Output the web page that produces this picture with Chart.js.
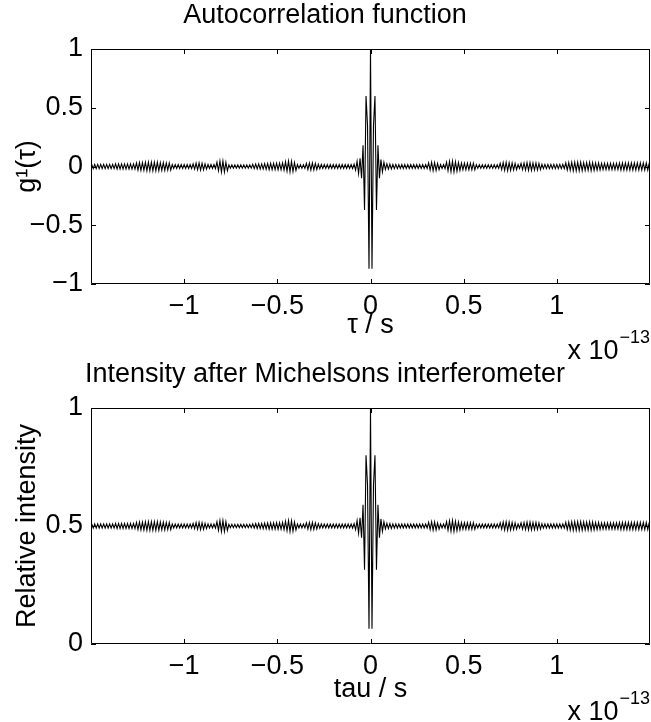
<!DOCTYPE html>
<html>
<head>
<meta charset="utf-8">
<title>Autocorrelation / Michelson</title>
<script src="https://cdn.jsdelivr.net/npm/chart.js@4.4.1/dist/chart.umd.min.js"></script>
<style>
    html, body { margin: 0; padding: 0; background: #ffffff; }
    .panel { position: relative; width: 651px; height: 361px; }
    canvas { display: block; }
</style>
</head>
<body>
<div class="panel"><canvas id="acfChart" width="651" height="361"></canvas></div>
<div class="panel"><canvas id="michelsonChart" width="651" height="361"></canvas></div>
<script>
// Sampling grid of the delay axis (units of 1e-13 s)
const TAU_START = -1.496;
const TAU_STEP = 0.008;

// Tick labels
const X_TICKS = [-1, -0.5, 0, 0.5, 1];
const G1_TICKS = [-1, -0.5, 0, 0.5, 1];
const INT_TICKS = [0, 0.5, 1];

// g1(tau)
const g1Values = [
    .018,-.018,.018,-.018,.018,-.018,.018,-.018,.018,-.018,.018,-.018,.018,-.018,.018,-.018,
    .022,-.022,.022,-.022,.022,-.022,.022,-.022,.022,-.022,.022,-.022,.022,-.022,
    .03,-.03,.033,-.033,.033,-.033,.036,-.036,.036,-.036,.036,-.036,.036,-.036,.036,-.036,.033,-.033,.033,-.033,.03,-.03,.03,-.03,
    .017,-.017,.017,-.017,.017,-.017,.017,-.017,.017,-.017,.017,-.017,.017,-.017,
    .022,-.022,.028,-.028,.03,-.03,.028,-.028,.022,-.022,
    .017,-.017,.017,-.017,.017,-.017,
    .036,-.036,.046,-.046,.046,-.046,.036,-.036,
    .014,-.014,.014,-.014,.014,-.014,.014,-.014,.014,-.014,.014,-.014,.014,-.014,.014,-.014,
    .018,-.018,.02,-.02,.022,-.022,.022,-.022,.024,-.024,.026,-.026,.026,-.026,.026,-.026,.028,-.028,.028,-.028,.03,-.03,
    .04,-.04,.046,-.046,.043,-.043,.033,-.033,
    .016,-.016,.016,-.016,.016,-.016,
    .026,-.026,.03,-.03,.03,-.03,.026,-.026,.02,-.02,
    .017,-.017,.017,-.017,.017,-.017,.017,-.017,.017,-.017,.017,-.017,.017,-.017,.017,-.017,.017,-.017,.017,-.017,.017,-.017,
    .02,-.03,.045,-.06,
    .07,-.1,.18,-.37,.6,.35,-.87,1,-.87,.35,.6,-.37,.18,-.1,.06,-.045,.035,-.025,
    .022,-.022,.02,-.02,.018,-.018,.018,-.018,.017,-.017,
    .017,-.017,.017,-.017,.017,-.017,.017,-.017,.017,-.017,.017,-.017,.017,-.017,.017,-.017,.017,-.017,
    .03,-.03,.036,-.036,.033,-.033,.026,-.026,
    .017,-.017,.017,-.017,
    .036,-.036,.043,-.043,.046,-.046,.04,-.04,.033,-.033,
    .028,-.028,.028,-.028,.028,-.028,.028,-.028,.028,-.028,
    .016,-.016,.016,-.016,.016,-.016,.016,-.016,.016,-.016,.016,-.016,.016,-.016,.016,-.016,
    .026,-.026,.033,-.033,.036,-.036,.033,-.033,.03,-.03,.026,-.026,
    .017,-.017,
    .026,-.026,.03,-.03,.033,-.033,.033,-.033,.03,-.03,.03,-.03,.026,-.026,
    .018,-.018,.018,-.018,.018,-.018,.018,-.018,.018,-.018,.018,-.018,.018,-.018,.018,-.018,
    .03,-.03,.033,-.033,.036,-.036,.036,-.036,.036,-.036,.036,-.036,.033,-.033,.033,-.033,.036,-.036,.033,-.033,.03,-.03,.03,-.03,
    .026,-.026,.026,-.026,.026,-.026,.026,-.026,.026,-.026,.026,-.026,
    .03,-.03,.03,-.03,.03,-.03,.03,-.03,.03,-.03,.03,-.03,.03,-.03,.03,-.03,.03,-.03,.03,-.03,
    .03
];

// Relative intensity
const intensityValues = [
    .509,.491,.509,.491,.509,.491,.509,.491,.509,.491,.509,.491,.509,.491,.509,.491,
    .511,.489,.511,.489,.511,.489,.511,.489,.511,.489,.511,.489,.511,.489,
    .515,.485,.5165,.4835,.5165,.4835,.518,.482,.518,.482,.518,.482,.518,.482,.518,.482,.5165,.4835,.5165,.4835,.515,.485,.515,.485,
    .5085,.4915,.5085,.4915,.5085,.4915,.5085,.4915,.5085,.4915,.5085,.4915,.5085,.4915,
    .511,.489,.514,.486,.515,.485,.514,.486,.511,.489,
    .5085,.4915,.5085,.4915,.5085,.4915,
    .518,.482,.523,.477,.523,.477,.518,.482,
    .507,.493,.507,.493,.507,.493,.507,.493,.507,.493,.507,.493,.507,.493,.507,.493,
    .509,.491,.51,.49,.511,.489,.511,.489,.512,.488,.513,.487,.513,.487,.513,.487,.514,.486,.514,.486,.515,.485,
    .52,.48,.523,.477,.5215,.4785,.5165,.4835,
    .508,.492,.508,.492,.508,.492,
    .513,.487,.515,.485,.515,.485,.513,.487,.51,.49,
    .5085,.4915,.5085,.4915,.5085,.4915,.5085,.4915,.5085,.4915,.5085,.4915,.5085,.4915,.5085,.4915,.5085,.4915,.5085,.4915,.5085,.4915,
    .51,.485,.5225,.47,
    .535,.45,.59,.315,.8,.675,.065,1,.065,.675,.8,.315,.59,.45,.53,.4775,.5175,.4875,
    .511,.489,.51,.49,.509,.491,.509,.491,.5085,.4915,
    .5085,.4915,.5085,.4915,.5085,.4915,.5085,.4915,.5085,.4915,.5085,.4915,.5085,.4915,.5085,.4915,.5085,.4915,
    .515,.485,.518,.482,.5165,.4835,.513,.487,
    .5085,.4915,.5085,.4915,
    .518,.482,.5215,.4785,.523,.477,.52,.48,.5165,.4835,
    .514,.486,.514,.486,.514,.486,.514,.486,.514,.486,
    .508,.492,.508,.492,.508,.492,.508,.492,.508,.492,.508,.492,.508,.492,.508,.492,
    .513,.487,.5165,.4835,.518,.482,.5165,.4835,.515,.485,.513,.487,
    .5085,.4915,
    .513,.487,.515,.485,.5165,.4835,.5165,.4835,.515,.485,.515,.485,.513,.487,
    .509,.491,.509,.491,.509,.491,.509,.491,.509,.491,.509,.491,.509,.491,.509,.491,
    .515,.485,.5165,.4835,.518,.482,.518,.482,.518,.482,.518,.482,.5165,.4835,.5165,.4835,.518,.482,.5165,.4835,.515,.485,.515,.485,
    .513,.487,.513,.487,.513,.487,.513,.487,.513,.487,.513,.487,
    .515,.485,.515,.485,.515,.485,.515,.485,.515,.485,.515,.485,.515,.485,.515,.485,.515,.485,.515,.485,
    .515
];

const FONT_FAMILY = "'Liberation Sans', Arial, Helvetica, sans-serif";
const FONT_SIZE = 27;

// MATLAB style: box round the axes, ticks pointing inward, "x 10^-13" exponent
const matlabAxes = {
    id: 'matlabAxes',
    beforeDraw(chart) {
        const ctx = chart.ctx;
        ctx.save();
        ctx.fillStyle = '#ffffff';
        ctx.fillRect(0, 0, chart.width, chart.height);
        ctx.restore();
    },
    afterDraw(chart) {
        const { ctx, chartArea: a, scales } = chart;
        const len = 5;
        ctx.save();
        ctx.strokeStyle = '#000000';
        ctx.lineWidth = 1;
        ctx.beginPath();
        ctx.rect(a.left + 0.5, a.top + 0.5, a.right - a.left - 1, a.bottom - a.top - 1);
        scales.x.ticks.forEach(t => {
            const px = Math.round(scales.x.getPixelForValue(t.value)) + 0.5;
            ctx.moveTo(px, a.bottom);
            ctx.lineTo(px, a.bottom - len);
            ctx.moveTo(px, a.top);
            ctx.lineTo(px, a.top + len);
        });
        scales.y.ticks.forEach(t => {
            const py = Math.round(scales.y.getPixelForValue(t.value)) + 0.5;
            ctx.moveTo(a.left, py);
            ctx.lineTo(a.left + len, py);
            ctx.moveTo(a.right, py);
            ctx.lineTo(a.right - len, py);
        });
        ctx.stroke();

        // exponent of the x axis
        ctx.fillStyle = '#000000';
        ctx.textBaseline = 'alphabetic';
        ctx.textAlign = 'left';
        const base = 'x 10';
        ctx.font = '18px ' + FONT_FAMILY;
        const supW = ctx.measureText('\u221213').width;
        ctx.font = FONT_SIZE + 'px ' + FONT_FAMILY;
        const baseW = ctx.measureText(base).width;
        const x0 = chart.width - 2 - supW - baseW;
        ctx.fillText(base, x0, 359);
        ctx.font = '18px ' + FONT_FAMILY;
        ctx.fillText('\u221213', x0 + baseW + 1, 343);
        ctx.restore();
    }
};

function fmtTick(v) {
    return v < 0 ? '\u2212' + Math.abs(v) : String(v);
}

function buildChart(canvasId, values, yTicks, yMin, yMax, titleText, xTitle, yTitle, layoutCfg) {
    const ctx = document.getElementById(canvasId).getContext('2d');
    const points = values.map((v, i) => ({ x: TAU_START + i * TAU_STEP, y: v }));

    return new Chart(ctx, {
        type: 'line',
        data: {
            datasets: [{
                data: points,
                borderColor: '#000000',
                borderWidth: 1.1,
                pointRadius: 0,
                tension: 0,
                fill: false
            }]
        },
        options: {
            responsive: false,
            animation: false,
            events: [],
            layout: { padding: { left: 0, right: 1, top: 0, bottom: 0 } },
            plugins: {
                legend: { display: false },
                tooltip: { enabled: false },
                title: {
                    display: true,
                    text: titleText,
                    color: '#000000',
                    font: { family: FONT_FAMILY, size: FONT_SIZE, weight: 'normal', lineHeight: 1 },
                    padding: layoutCfg.titlePadding
                }
            },
            scales: {
                x: {
                    type: 'linear',
                    min: -1.5,
                    max: 1.5,
                    afterBuildTicks: scale => { scale.ticks = X_TICKS.map(value => ({ value })); },
                    afterFit: scale => { scale.height = layoutCfg.xHeight; },
                    grid: { display: false, drawTicks: false },
                    border: { display: false },
                    ticks: {
                        color: '#000000',
                        padding: 6,
                        maxRotation: 0,
                        font: { family: FONT_FAMILY, size: FONT_SIZE },
                        callback: fmtTick
                    },
                    title: {
                        display: true,
                        text: xTitle,
                        color: '#000000',
                        font: { family: FONT_FAMILY, size: FONT_SIZE, lineHeight: 1.2 },
                        padding: { top: 0, bottom: layoutCfg.xTitleBottom }
                    }
                },
                y: {
                    min: yMin,
                    max: yMax,
                    afterBuildTicks: scale => { scale.ticks = yTicks.map(value => ({ value })); },
                    afterFit: scale => { scale.width = 91; },
                    grid: { display: false, drawTicks: false },
                    border: { display: false },
                    ticks: {
                        color: '#000000',
                        padding: 8,
                        font: { family: FONT_FAMILY, size: FONT_SIZE },
                        callback: fmtTick
                    },
                    title: {
                        display: true,
                        text: yTitle,
                        color: '#000000',
                        font: { family: FONT_FAMILY, size: FONT_SIZE, lineHeight: 1.2 },
                        padding: { top: 11, bottom: 0 }
                    }
                }
            }
        },
        plugins: [matlabAxes]
    });
}

buildChart('acfChart', g1Values, G1_TICKS, -1, 1,
    'Autocorrelation function', '\u03c4 / s', 'g\u00b9(\u03c4)',
    { titlePadding: { top: 2, bottom: 20 }, xHeight: 77, xTitleBottom: 19 });

buildChart('michelsonChart', intensityValues, INT_TICKS, 0, 1,
    'Intensity after Michelsons interferometer', 'tau / s', 'Relative intensity',
    { titlePadding: { top: 0, bottom: 20 }, xHeight: 78, xTitleBottom: 16 });
</script>
</body>
</html>
